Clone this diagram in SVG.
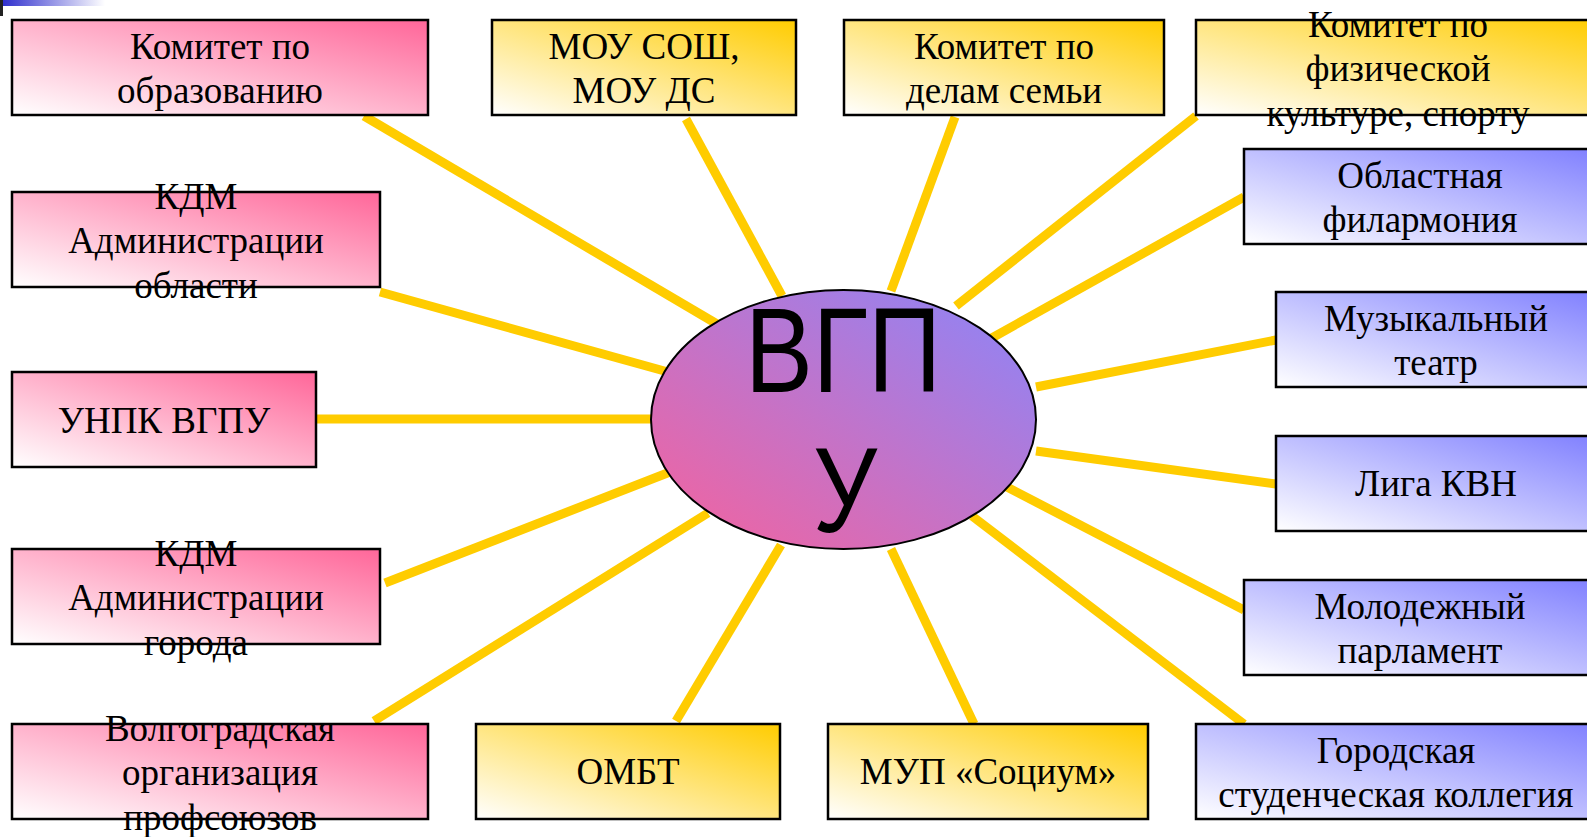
<svg xmlns="http://www.w3.org/2000/svg" width="1587" height="837" viewBox="0 0 1587 837">
<defs>
<linearGradient id="gPink" x1="0" y1="1" x2="1" y2="0"><stop offset="0" stop-color="#ffffff"/><stop offset="1" stop-color="#ff6699"/></linearGradient>
<linearGradient id="gYel" x1="0" y1="1" x2="1" y2="0"><stop offset="0" stop-color="#ffffff"/><stop offset="1" stop-color="#ffcc00"/></linearGradient>
<linearGradient id="gBlue" x1="0" y1="1" x2="1" y2="0"><stop offset="0" stop-color="#ffffff"/><stop offset="1" stop-color="#8080ff"/></linearGradient>
<linearGradient id="gEll" x1="0" y1="1" x2="1" y2="0"><stop offset="0" stop-color="#f6629c"/><stop offset="1" stop-color="#8a86fa"/></linearGradient>
<linearGradient id="gBar" x1="0" y1="0" x2="1" y2="0"><stop offset="0" stop-color="#2a2acc"/><stop offset="1" stop-color="#2a2acc" stop-opacity="0"/></linearGradient>
</defs>
<style>
.pk{fill:url(#gPink);stroke:#000;stroke-width:2.5}
.yl{fill:url(#gYel);stroke:#000;stroke-width:2.5}
.bl{fill:url(#gBlue);stroke:#000;stroke-width:2.5}
.t{font-family:"Liberation Serif","Times New Roman",serif;font-size:37px;fill:#000;text-anchor:middle}
.c line{stroke:#ffcc00;stroke-width:9}
.big{font-family:"Liberation Sans",Arial,sans-serif;font-size:120px;fill:#000;text-anchor:middle}
</style>
<rect width="1587" height="837" fill="#fff"/>
<rect x="0" y="0" width="105" height="6" fill="url(#gBar)"/>
<rect x="0" y="0" width="3" height="16" fill="#222"/>
<g class="c" id="connectors">
<line x1="364" y1="116" x2="717" y2="324"/>
<line x1="686" y1="119" x2="782" y2="296"/>
<line x1="955" y1="117" x2="891" y2="291"/>
<line x1="1196" y1="116" x2="956" y2="306"/>
<line x1="1244" y1="197" x2="990" y2="339"/>
<line x1="1276" y1="340" x2="1036" y2="387"/>
<line x1="1276" y1="484" x2="1036" y2="451"/>
<line x1="1244" y1="610" x2="1005" y2="486"/>
<line x1="1244" y1="724" x2="972" y2="516"/>
<line x1="974" y1="724" x2="891" y2="549"/>
<line x1="676" y1="721" x2="781" y2="545"/>
<line x1="374" y1="721" x2="708" y2="513"/>
<line x1="385" y1="583" x2="670" y2="472"/>
<line x1="316" y1="419" x2="651" y2="419"/>
<line x1="380" y1="292" x2="668" y2="372"/>
</g>
<g id="center">
<ellipse cx="843.5" cy="419.5" rx="192.5" ry="129.5" fill="url(#gEll)" stroke="#000" stroke-width="2"/>
<text class="big" x="843" y="392" textLength="196" lengthAdjust="spacingAndGlyphs">ВГП</text>
<text class="big" x="845" y="532" textLength="64" lengthAdjust="spacingAndGlyphs">У</text>
</g>
<g id="n1"><rect class="pk" x="12" y="20" width="416" height="95"/><text class="t" x="220" y="59">Комитет по</text><text class="t" x="220" y="103">образованию</text></g>
<g id="n2"><rect class="yl" x="492" y="20" width="304" height="95"/><text class="t" x="644" y="59">МОУ СОШ,</text><text class="t" x="644" y="103">МОУ ДС</text></g>
<g id="n3"><rect class="yl" x="844" y="20" width="320" height="95"/><text class="t" x="1004" y="59">Комитет по</text><text class="t" x="1004" y="103">делам семьи</text></g>
<g id="n4"><rect class="yl" x="1196" y="20" width="404" height="95"/><text class="t" x="1398" y="37">Комитет по</text><text class="t" x="1398" y="81">физической</text><text class="t" x="1398" y="126">культуре, спорту</text></g>
<g id="n5"><rect class="bl" x="1244" y="149" width="352" height="95"/><text class="t" x="1420" y="188">Областная</text><text class="t" x="1420" y="232">филармония</text></g>
<g id="n6"><rect class="bl" x="1276" y="292" width="320" height="95"/><text class="t" x="1436" y="331">Музыкальный</text><text class="t" x="1436" y="375">театр</text></g>
<g id="n7"><rect class="bl" x="1276" y="436" width="320" height="95"/><text class="t" x="1436" y="496">Лига КВН</text></g>
<g id="n8"><rect class="bl" x="1244" y="580" width="352" height="95"/><text class="t" x="1420" y="619">Молодежный</text><text class="t" x="1420" y="663">парламент</text></g>
<g id="n9"><rect class="bl" x="1196" y="724" width="400" height="95"/><text class="t" x="1396" y="763">Городская</text><text class="t" x="1396" y="807">студенческая коллегия</text></g>
<g id="n10"><rect class="pk" x="12" y="192" width="368" height="95"/><text class="t" x="196" y="209">КДМ</text><text class="t" x="196" y="253">Администрации</text><text class="t" x="196" y="298">области</text></g>
<g id="n11"><rect class="pk" x="12" y="372" width="304" height="95"/><text class="t" x="164" y="433">УНПК ВГПУ</text></g>
<g id="n12"><rect class="pk" x="12" y="549" width="368" height="95"/><text class="t" x="196" y="566">КДМ</text><text class="t" x="196" y="610">Администрации</text><text class="t" x="196" y="655">города</text></g>
<g id="n13"><rect class="pk" x="12" y="724" width="416" height="95"/><text class="t" x="220" y="741">Волгоградская</text><text class="t" x="220" y="785">организация</text><text class="t" x="220" y="830">профсоюзов</text></g>
<g id="n14"><rect class="yl" x="476" y="724" width="304" height="95"/><text class="t" x="628" y="784">ОМБТ</text></g>
<g id="n15"><rect class="yl" x="828" y="724" width="320" height="95"/><text class="t" x="988" y="784">МУП «Социум»</text></g>
</svg>
